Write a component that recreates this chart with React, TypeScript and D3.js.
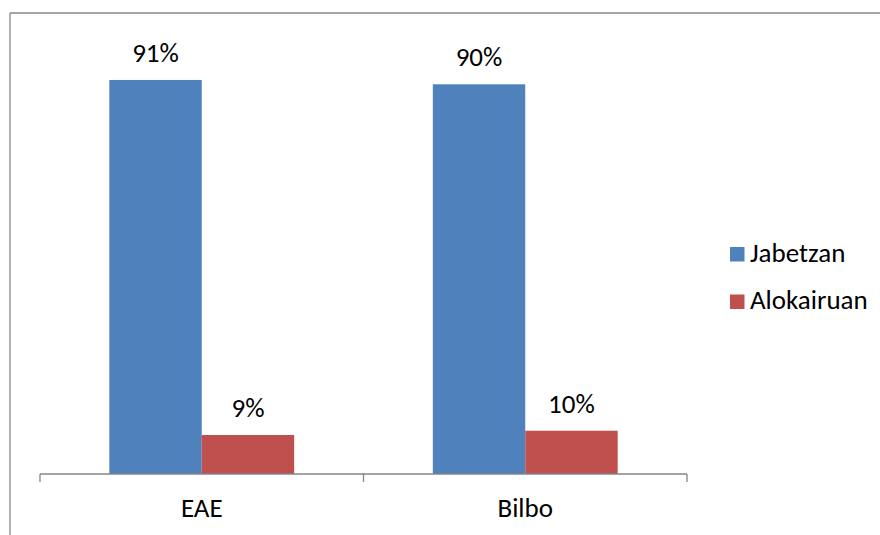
import React from "react";
import * as d3 from "d3";

const categories = ["EAE", "Bilbo"];
const seriesNames = ["Jabetzan", "Alokairuan"];
const jabetzan = [91, 90];
const alokairuan = [9, 10];
const colors = ["#4F81BD", "#C0504D"];

const W = 880;
const H = 535;
const FONT = "Carlito, Calibri, Lato, 'Noto Sans', sans-serif";
const FS = 27;

export default function App() {
  const plot = { left: 40, right: 687, top: 41, bottom: 474 };
  const x0 = d3.scaleBand<string>().domain(categories).range([plot.left, plot.right]).paddingInner(0).paddingOuter(0);
  const groupInner = 2 / 3.5;
  const x1 = d3
    .scaleBand<string>()
    .domain(seriesNames)
    .range([0, x0.bandwidth() * groupInner])
    .padding(0);
  const groupOffset = (x0.bandwidth() * (1 - groupInner)) / 2;
  const y = d3.scaleLinear().domain([0, 100]).range([plot.bottom, plot.top]);
  const series = [jabetzan, alokairuan];

  const tickXs = [plot.left, ...categories.map((c) => (x0(c) as number) + x0.bandwidth())];

  return (
    <svg width={W} height={H} style={{ position: "absolute", left: 0, top: 0 }}>
      <rect x={0} y={0} width={W} height={H} fill="#fff" />
      {/* chart frame (top and left edges visible) */}
      <line x1={10} y1={13} x2={W} y2={13} stroke="#878787" strokeWidth={1.3} />
      <line x1={10} y1={13} x2={10} y2={H} stroke="#878787" strokeWidth={1.3} />

      {categories.map((c, ci) =>
        series.map((vals, si) => {
          const bx = (x0(c) as number) + groupOffset + (x1(seriesNames[si]) as number);
          const by = y(vals[ci]);
          return (
            <g key={c + si}>
              <rect
                x={bx}
                y={by}
                width={x1.bandwidth()}
                height={plot.bottom - by}
                fill={colors[si]}
              />
              <text
                x={bx + x1.bandwidth() / 2}
                y={by - 18}
                textAnchor="middle"
                fontFamily={FONT}
                fontSize={FS}
                fill="#000"
              >
                {vals[ci]}%
              </text>
            </g>
          );
        })
      )}

      {/* category axis */}
      <line x1={plot.left} y1={plot.bottom} x2={plot.right} y2={plot.bottom} stroke="#868686" strokeWidth={1.3} />
      {tickXs.map((tx, i) => (
        <line key={i} x1={tx} y1={plot.bottom} x2={tx} y2={plot.bottom + 8} stroke="#868686" strokeWidth={1.3} />
      ))}
      {categories.map((c) => (
        <text
          key={c}
          x={(x0(c) as number) + x0.bandwidth() / 2}
          y={517}
          textAnchor="middle"
          fontFamily={FONT}
          fontSize={FS}
          fill="#000"
        >
          {c}
        </text>
      ))}

      {/* legend */}
      {seriesNames.map((s, i) => (
        <g key={s} transform={`translate(730, ${247 + i * 47.5})`}>
          <rect x={0} y={0} width={14.5} height={14.5} fill={colors[i]} />
          <text x={20} y={14.5} fontFamily={FONT} fontSize={FS} fill="#000">
            {s}
          </text>
        </g>
      ))}
    </svg>
  );
}
